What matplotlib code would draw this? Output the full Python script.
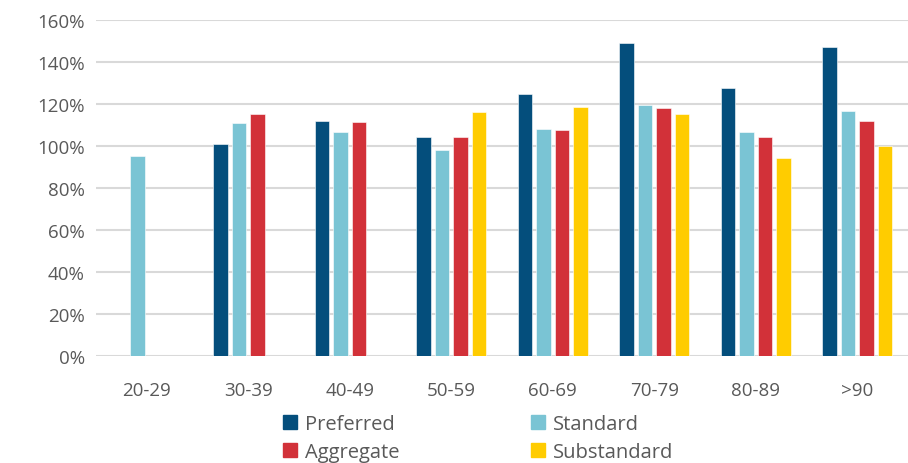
import numpy as np
import matplotlib
matplotlib.use("Agg")
import matplotlib.pyplot as plt
from matplotlib.patches import Patch

plt.rcParams['font.family'] = ['Open Sans', 'DejaVu Sans']

categories = ["20-29", "30-39", "40-49", "50-59", "60-69", "70-79", "80-89", ">90"]
preferred = [np.nan, 101, 112, 104, 124.5, 149, 127.3, 146.8]
standard = [95, 110.7, 106.5, 98, 108, 119.5, 106.8, 116.8]
aggregate = [np.nan, 115.1, 111.4, 104, 107.3, 118, 104.3, 111.9]
substandard = [np.nan, np.nan, np.nan, 116.2, 118.3, 115, 94.1, 99.7]

series = [
    ("Preferred", preferred, "#044E7C"),
    ("Standard", standard, "#7AC4D4"),
    ("Aggregate", aggregate, "#D23139"),
    ("Substandard", substandard, "#FFCC00"),
]

fig = plt.figure(figsize=(9.08, 4.64), dpi=100)
ax = fig.add_axes([96 / 908, 1 - 357 / 464, 812 / 908, (357 - 20.7) / 464])

x = np.arange(len(categories))
slot = 0.182
width = 0.145
for i, (name, vals, color) in enumerate(series):
    ax.bar(x + (i - 1.5) * slot, vals, width=width, color=color,
           edgecolor="white", linewidth=0.4, label=name, zorder=3)

ax.set_xlim(-0.5, len(categories) - 0.5)
ax.set_ylim(0, 160)
ax.set_yticks(np.arange(0, 161, 20))
ax.set_yticklabels([f"{v}%" for v in range(0, 161, 20)])
ax.set_xticks(x)
ax.set_xticklabels(categories)
ax.grid(axis="y", color="#D9D9D9", linewidth=1.5, zorder=0)
ax.set_axisbelow(True)
for s in ax.spines.values():
    s.set_visible(False)
ax.tick_params(axis="both", length=0, labelsize=13.5, colors="#595959", pad=8)
ax.tick_params(axis="x", pad=18)

handles = [Patch(color=c) for _, _, c in series]
labels = [n for n, _, _ in series]
order = [0, 2, 1, 3]
fig.legend([handles[i] for i in order], [labels[i] for i in order],
           loc="upper left", bbox_to_anchor=(283 / 908, 1 - 415 / 464),
           ncol=2, frameon=False, fontsize=14.5, labelcolor="#595959",
           handlelength=0.7, handleheight=0.7, handletextpad=0.4,
           columnspacing=6.5, borderpad=0, borderaxespad=0, labelspacing=0.4)

fig.savefig("out.png", dpi=100)
